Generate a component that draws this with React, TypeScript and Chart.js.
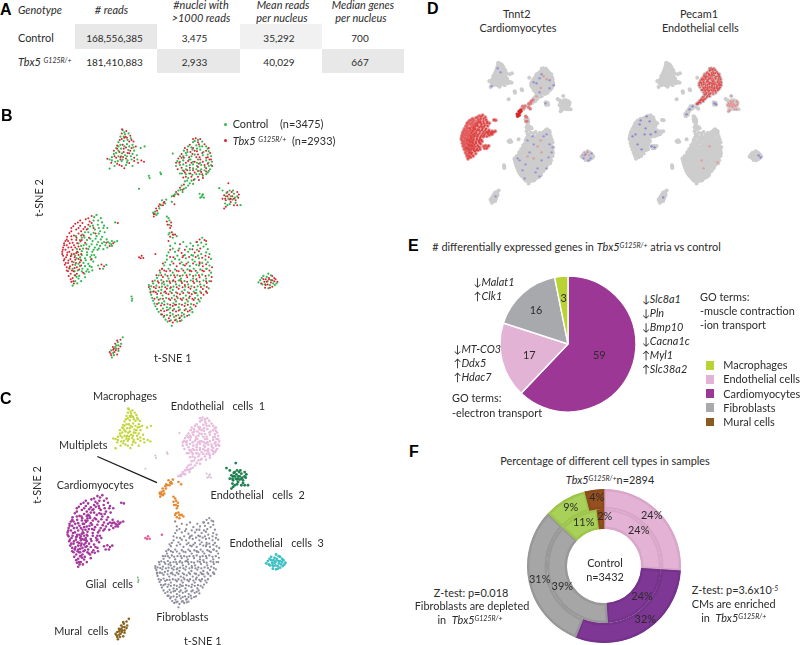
import React, { useEffect, useRef } from "react";
import { Chart, registerables } from "chart.js";
Chart.register(...registerables);

// ---- t-SNE embedding, one list per cluster and genotype (x,y flat) ----
const macroCtrl = [385,115,392,128,378,135,403,125,410,140,388,148,372,152,398,158,415,160,365,170,380,172,402,176,420,178,358,188,372,195,392,192,410,195,428,192,345,205,362,212,382,210,400,208,360,225,345,233,415,225,440,170,452,165,383,186,398,214,372,178,352,198,412,205,390,122,378,160,388,135,400,145,372,165,390,165,405,165,418,168,365,185,380,195,398,195,415,188,385,205,370,210,352,208,395,222,430,205];
const macroMut = [382,125,396,118,408,132,390,138,376,145,405,150,385,160,368,162,395,168,412,170,375,182,388,182,405,186,365,200,378,205,395,202,375,222,420,210,450,212,432,215,425,165,338,203,390,232,398,138,383,112,418,150,358,178,368,218,405,216,386,197,394,135,382,142,412,145,368,172,400,185,420,200,360,195,388,172,378,198,408,178,350,215,382,225,442,208];
const endo1Ctrl = [615,145,600,152,628,150,640,165,585,165,610,162,572,178,598,175,622,175,648,180,560,195,580,192,605,190,630,192,655,195,552,210,570,208,592,205,615,205,640,208,658,212,560,222,580,225,600,220,625,222,648,225,568,238,590,238,610,235,635,238,652,235,578,250,598,252,620,250,640,250,585,262,605,265,575,272,590,278,565,285,578,292,555,300,568,305,545,312,535,318,612,215,583,182,648,240,560,248,628,165,595,195,625,235,548,225,600,280,645,190,605,148,620,165,595,168,645,172,578,185,570,195,612,172,632,182,588,205,560,212,600,212,622,215,647,215,570,220,590,222,612,225,636,228,655,222,578,235,600,232,622,240,645,245,566,248,588,248,610,250,630,255,582,270,595,270,572,295,562,298,552,310,585,285,540,315];
const endo1Mut = [608,140,622,142,590,160,618,158,635,158,575,170,592,182,612,180,640,178,565,188,588,198,620,198,645,198,555,202,578,215,605,212,630,212,650,205,565,230,590,230,615,228,640,232,575,245,605,245,625,243,595,258,615,258,630,262,560,292,572,282,548,305,600,170,635,222,585,210,658,225,570,260,610,198,628,250,553,235,648,170,615,152,600,142,582,175,605,178,628,185,652,185,565,200,598,188,615,190,640,200,548,215,572,200,595,215,622,205,655,205,558,215,582,238,600,238,618,218,645,218,572,240,592,248,615,240,640,242,602,268,618,268,578,258,568,298,542,318,555,312];
const endoSmall = [620,310,628,315,633,322,622,322,465,255,467,262,500,245,502,250,435,295,538,187,626,320,630,312];
const endo2Ctrl = [712,300,725,310,700,318,735,318,745,345,690,300,705,345,720,328,680,293,728,322,708,325,698,340,715,318,702,308,730,338,712,342,722,300];
const endo2Mut = [695,315,710,312,720,318,730,330,715,335,700,330,740,312,725,345,695,355,708,278,690,325,735,305,718,305,705,305,712,328,725,325,705,318,715,325,698,325,738,322,735,345,700,350];
const endo3Ctrl = [830,555,815,562,805,575,838,575,812,588,845,585,830,600,800,582,825,565,850,590,835,590,820,588,810,568,838,560,855,585,828,578];
const endo3Mut = [842,562,822,572,852,572,828,588,858,580,820,598,842,595,832,568,818,580,838,582,848,578,825,580,835,598,848,568,815,572,842,575,822,590,808,585,832,572];
const cardioCtrl = [305,375,318,385,296,392,322,398,309,405,328,408,285,410,300,420,316,425,330,428,270,428,288,435,305,440,322,442,260,445,276,452,293,455,310,458,328,458,345,462,360,458,368,455,250,462,266,468,283,472,300,475,316,470,332,468,350,465,245,480,260,486,276,490,292,488,308,482,338,475,352,470,240,500,255,505,270,508,286,504,298,498,235,520,250,525,265,522,280,525,295,518,232,540,248,545,262,540,278,542,290,535,238,560,252,562,268,555,282,550,240,578,250,570,232,592,310,530,325,540,335,528,362,398,242,440,228,500,222,540,338,415,298,382,310,392,326,415,312,415,294,408,278,418,262,435,280,428,296,430,312,432,254,452,268,444,286,448,302,448,318,450,336,450,352,455,258,470,274,465,290,465,306,466,322,462,340,458,248,490,264,478,280,480,296,482,312,478,326,480,244,508,260,498,276,498,290,498,240,528,256,512,272,514,288,512,302,505,238,548,254,532,270,532,284,532,244,565,260,548,274,548,292,545,246,585,258,578,270,566];
const cardioMut = [290,378,272,388,255,392,284,395,240,402,255,408,270,412,290,400,228,415,243,420,258,425,275,420,222,430,236,438,250,432,266,438,282,445,215,442,229,450,243,452,256,456,270,460,210,455,223,462,236,468,250,472,206,468,219,475,232,482,246,488,202,482,216,490,229,495,243,492,258,495,200,495,212,505,225,510,240,512,258,515,205,515,218,522,232,528,245,535,208,528,222,538,235,548,258,530,214,545,226,555,245,555,220,562,232,568,228,580,236,585,320,527,315,540,328,532,370,400,302,432,274,478,290,510,264,552,280,385,262,400,248,398,234,410,250,415,265,418,280,405,296,415,228,425,214,450,228,440,244,445,258,438,206,462,218,455,232,460,246,462,260,452,203,475,214,468,228,474,240,475,254,480,200,488,210,482,222,488,236,495,250,498,203,500,215,498,226,502,238,505,250,510,207,510,219,515,230,518,242,522,254,520,211,522,224,532,238,538,252,542,218,548,230,545,240,560,226,572,214,535,234,578,345,470,356,462,335,460];
const fibroCtrl = [628,445,625,460,640,465,615,468,530,470,580,472,600,470,645,480,545,488,585,488,625,495,525,490,650,495,558,512,598,512,638,512,520,512,578,508,618,508,655,510,530,528,570,528,610,528,650,530,512,530,590,532,500,552,538,552,575,552,613,552,655,552,490,568,525,570,563,570,600,570,640,570,478,585,512,588,548,588,585,588,622,588,468,602,503,605,538,605,574,605,610,605,648,600,472,620,507,622,542,622,578,622,614,622,478,638,512,640,548,640,584,640,620,640,485,655,520,658,556,658,592,658,495,672,530,675,566,675,598,673,510,688,542,688,574,688,522,702,552,702,535,715,470,610,495,645,530,600,560,575,590,545,618,530,545,510,505,585,465,590,530,660,610,615,560,690,640,540,600,500,545,462,570,458,592,462,610,458,538,478,558,478,590,480,612,482,632,472,520,500,552,500,575,498,595,498,615,500,640,490,515,520,535,518,565,520,585,520,605,518,628,522,645,520,505,540,525,540,545,542,565,540,583,542,602,540,622,542,642,540,495,560,515,558,532,560,552,560,568,560,590,558,608,560,628,558,648,560,483,576,503,575,520,578,538,578,556,576,574,578,593,576,612,578,632,576,650,578,472,594,488,592,505,595,522,592,540,595,558,592,576,595,595,594,614,594,634,592,478,610,494,608,512,612,530,610,548,612,566,610,584,612,602,610,622,610,640,610,475,630,490,628,500,632,518,630,535,630,553,630,570,630,588,630,606,630,624,630,482,647,505,646,522,648,540,646,558,648,576,646,594,648,612,646,490,664,508,662,525,665,542,664,560,665,578,664,596,664,502,680,520,682,538,680,555,682,572,680,588,682,516,696,532,698,548,696,565,698];
const fibroMut = [635,452,620,450,560,465,622,478,565,492,605,490,540,505,530,482,598,480,638,500,550,532,630,532,658,535,518,548,556,548,595,548,633,548,508,565,545,566,582,566,620,566,657,565,495,583,530,584,566,584,603,584,642,584,486,600,520,601,556,601,592,601,630,602,490,617,525,618,560,618,596,618,632,620,495,635,530,636,566,636,602,636,502,653,538,654,574,654,608,655,512,670,548,671,584,671,526,692,558,692,538,705,575,530,610,572,540,575,575,590,515,610,545,650,590,625,505,540,480,610,640,610,570,500,620,520,525,455,505,680,550,625,612,458,640,455,555,484,575,482,618,486,530,504,568,505,588,504,608,504,628,506,648,505,508,524,540,524,560,524,580,525,600,524,620,525,640,526,498,545,512,545,530,546,550,546,570,545,590,546,608,546,628,545,650,545,488,560,503,560,522,562,542,560,560,562,580,560,600,562,618,560,638,562,476,578,492,578,510,580,528,578,546,580,564,578,582,580,600,578,620,580,640,578,655,578,465,596,480,596,497,597,515,597,532,597,550,597,568,597,586,597,604,597,624,596,642,596,470,613,486,612,502,615,518,615,535,614,552,615,570,614,588,614,606,614,625,614,643,614,482,632,508,632,526,632,544,634,562,632,580,634,598,632,616,634,490,648,512,650,530,650,548,650,566,650,584,650,602,650,502,668,520,667,538,668,556,668,574,667,590,668,512,684,530,684,548,684,565,684,582,684,528,700,545,698,560,700];
const multCtrl = [488,375,478,368,497,355,502,345,518,328,505,330,520,380,528,392,525,435,538,445,550,440,535,335,484,365,492,370,515,340,525,385,527,405,540,436,528,430];
const multMut = [480,380,490,362,487,355,510,338,495,348,483,372,522,405,533,398,530,415,535,428,545,435,530,442,543,342,480,372,498,342,508,345,520,395,538,435,533,408,512,335];
const muralCtrl = [385,750,370,765,372,775,365,785,350,790,372,792,358,805,352,812,380,770,366,775,356,798,362,780];
const muralMut = [378,758,362,770,355,780,378,778,360,795,348,800,368,803,356,788,372,785,350,805,364,790,368,760,345,795,358,785];
const pinkSmall = [435,505,443,500,448,507,440,508,485,495];
const glial = [412,625,414,632,413,638];
const multipletLine = [290,258,470,337];

// ---- panel D expression overlays ----
const tnnt2Blue = [610,480,560,520,640,520,520,620,600,600,650,560,490,600,570,660,625,470,540,560,580,640,530,500,655,535,515,690,600,170,640,200,590,260,575,215,640,240,660,225,820,570,810,590,845,590,850,565,835,600,620,315,380,140,395,160,350,230,370,780,480,590,505,650,590,680,635,585,625,640,555,480,590,190,560,210];
const tnnt2Soft = [580,530,560,590,600,560,530,580,595,500,610,180,625,195,596,238,830,560,815,575,545,320,560,295,575,280];
const tnnt2Strong = [480,380,490,362,487,355,483,372,495,348,488,375,478,368,497,355];
const tnnt2Mid = [510,338,502,345,518,328,505,330,520,380,525,385,527,405,522,405,535,335,543,342,545,312,555,300,548,305,535,318,540,315];
const pecamBlue = [250,420,230,470,280,440,300,405,305,470,240,520,260,545,330,458,325,535,310,530,285,380,215,480,540,318,555,300,575,270,625,315,632,320,845,575,855,585,368,785,485,370,255,400,275,470,515,330,500,345];
const pecamSoft = [600,530,570,640,640,610,560,600];

// ---- panel E and F values ----
const pieLabels = ["Cardiomyocytes", "Endothelial cells", "Fibroblasts", "Macrophages"];
const pieValues = [59, 17, 16, 3];
const ringTbx5 = [26, 30, 31, 9, 4];
const ringControl = [26, 23, 38, 11, 2];
const legendNames = ["Macrophages", "Endothelial cells", "Cardiomyocytes", "Fibroblasts", "Mural cells"];
const legendColors = ["#bad334", "#e3b3d6", "#9c3795", "#a8a9ad", "#8a5a22"];
const tableRows = [
  ["168,556,385", "3,475", "35,292", "700"],
  ["181,410,883", "2,933", "40,029", "667"],
];

const pts = (f: number[]) => {
  const out: { x: number; y: number }[] = [];
  for (let i = 0; i + 1 < f.length; i += 2) out.push({ x: f[i], y: f[i + 1] });
  return out;
};
const dot = (data: number[], color: string, r: number, extra: any = {}) => ({
  data: pts(data), backgroundColor: color, pointRadius: r, pointBorderWidth: 0, pointHoverRadius: r, showLine: false, ...extra,
});
const allPoints = [macroCtrl, macroMut, endo1Ctrl, endo1Mut, endoSmall, endo2Ctrl, endo2Mut, endo3Ctrl, endo3Mut, cardioCtrl, cardioMut, fibroCtrl, fibroMut, multCtrl, multMut, muralCtrl, muralMut, pinkSmall, glial].flat();

const scatterOpts = (xmin: number, xmax: number, ymin: number, ymax: number) => ({
  responsive: false, animation: false as const, events: [] as any[],
  layout: { padding: 0 },
  plugins: { legend: { display: false }, tooltip: { enabled: false } },
  scales: {
    x: { type: "linear" as const, display: false, min: xmin, max: xmax },
    y: { type: "linear" as const, display: false, min: ymin, max: ymax, reverse: true },
  },
});

const FONT = "Lato, 'Open Sans', sans-serif";

function T({ x, y, c, i, s, b, rot, children, col }: any) {
  const tx = c ? "-50%" : "0";
  return (
    <div style={{ position: "absolute", left: x, top: y, whiteSpace: "pre", fontStyle: i ? "italic" : "normal", fontSize: s ?? 10.9, color: col ?? "#2b2b2b", fontWeight: b ? 700 : 400, lineHeight: 1, transform: `translate(${tx},-50%)${rot ? " rotate(-90deg)" : ""}`, fontFamily: b ? "'Liberation Sans', Arial, sans-serif" : FONT }}>{children}</div>
  );
}
const Sup = ({ children, s }: any) => <span style={{ fontSize: s ?? 7, fontStyle: "italic", position: "relative", top: -3 }}>{children}</span>;
const Tbx = ({ gap }: any) => <><i>Tbx5</i>{gap ? " " : ""}<Sup>G125R/+</Sup></>;
const Cell = ({ x, y, w, h, col }: any) => <div style={{ position: "absolute", left: x, top: y, width: w, height: h, background: col }} />;

export default function App() {
  const bRef = useRef<HTMLCanvasElement>(null);
  const cRef = useRef<HTMLCanvasElement>(null);
  const d1Ref = useRef<HTMLCanvasElement>(null);
  const d2Ref = useRef<HTMLCanvasElement>(null);
  const eRef = useRef<HTMLCanvasElement>(null);
  const fRef = useRef<HTMLCanvasElement>(null);

  useEffect(() => {
    const charts: Chart[] = [];
    const G = "#36b650", R = "#d8232f";
    charts.push(new Chart(bRef.current!, {
      type: "scatter",
      data: { datasets: [
        dot([...macroMut, ...endo1Mut, ...endo2Mut, ...endo3Mut, ...cardioMut, ...fibroMut, ...multMut, ...muralMut, ...pinkSmall], R, 1),
        dot([...macroCtrl, ...endo1Ctrl, ...endoSmall, ...endo2Ctrl, ...endo3Ctrl, ...cardioCtrl, ...fibroCtrl, ...multCtrl, ...muralCtrl, ...glial], G, 1.1),
      ] },
      options: scatterOpts(13.4, 1229, 26, 847) as any,
    }));
    charts.push(new Chart(cRef.current!, {
      type: "scatter",
      data: { datasets: [
        { data: pts(multipletLine), showLine: true, borderColor: "#1a1a1a", borderWidth: 1.3, pointRadius: 0 },
        dot([...macroCtrl, ...macroMut], "#c2d53a", 1.2),
        dot([...endo1Ctrl, ...endo1Mut], "#e8bcdd", 1.3),
        dot(endoSmall, "#d9c3d6", 1.1),
        dot([...endo2Ctrl, ...endo2Mut], "#1f7f4f", 1.4),
        dot([...endo3Ctrl, ...endo3Mut], "#3cc0c4", 1.4),
        dot([...cardioCtrl, ...cardioMut], "#a4389c", 1.3),
        dot([...fibroCtrl, ...fibroMut], "#8d8d9c", 1.15),
        dot([...multCtrl, ...multMut], "#e58a32", 1.3),
        dot([...muralCtrl, ...muralMut], "#8a6420", 1.3),
        dot(pinkSmall, "#e8609a", 1.3),
        dot(glial, "#7fae7f", 1),
      ] },
      options: scatterOpts(0, 1200, 0, 825) as any,
    }));
    const GR = "#cdcdcd";
    charts.push(new Chart(d1Ref.current!, {
      type: "scatter",
      data: { datasets: [
        dot(tnnt2Strong, "#dc2222", 1.5),
        dot(tnnt2Mid, "#e47878", 1.5),
        dot(cardioCtrl, "#d9403f", 1.1),
        dot(cardioMut, "#e25a5a", 1.3),
        dot([...endo3Ctrl.slice(0, 8)], "#c9a6c4", 1.1),
        dot(tnnt2Blue, "rgba(130,125,215,.7)", 1.2),
        dot(tnnt2Soft, "rgba(235,140,140,.8)", 1.2),
        dot(cardioMut, "#eda3a3", 2),
        dot(cardioCtrl, "#eda3a3", 2),
        dot(allPoints, GR, 2),
      ] },
      options: scatterOpts(102, 907, 58.5, 888) as any,
    }));
    charts.push(new Chart(d2Ref.current!, {
      type: "scatter",
      data: { datasets: [
        dot(endo2Mut, "#ea8c8c", 1),
        dot(endo1Ctrl, "#e04a4a", 1),
        dot(endo1Mut, "#e86a6a", 1.1),
        dot(pecamBlue, "rgba(125,120,215,.8)", 1.2),
        dot(pecamSoft, "rgba(235,140,140,.8)", 1.2),
        dot(allPoints, GR, 2),
      ] },
      options: scatterOpts(102, 907, 58.5, 888) as any,
    }));
    charts.push(new Chart(eRef.current!, {
      type: "pie",
      data: { labels: pieLabels, datasets: [{ data: pieValues, backgroundColor: ["#9c3795", "#e3b3d6", "#a8a9ad", "#bad334"], borderColor: "#fff", borderWidth: 1.4 }] },
      options: { responsive: false, animation: false, events: [], radius: 68, layout: { padding: 0 }, plugins: { legend: { display: false }, tooltip: { enabled: false } } } as any,
    }));
    const ringFill = ["#e3b2d4", "#7f3795", "#a6a6a6", "#a9d15a", "#96501f"];
    const ringEdge = ["#d7a6c8", "#74328a", "#989898", "#9dc44c", "#8a4a1c"];
    charts.push(new Chart(fRef.current!, {
      type: "doughnut",
      data: { labels: legendNames, datasets: [
        { data: ringTbx5, backgroundColor: ringFill, borderColor: ringEdge, borderWidth: 2, borderAlign: "inner" },
        { data: ringControl, backgroundColor: ringFill, borderColor: ringEdge, borderWidth: 2, borderAlign: "inner" },
      ] as any },
      options: { responsive: false, animation: false, events: [], radius: 77, cutout: 38.5, layout: { padding: 0 }, plugins: { legend: { display: false }, tooltip: { enabled: false } } } as any,
    }));
    return () => charts.forEach((c) => c.destroy());
  }, []);

  const cv = (ref: any, x: number, y: number, w: number, h: number) => (
    <canvas ref={ref} width={w} height={h} style={{ position: "absolute", left: x, top: y, width: w, height: h }} />
  );
  const colsX = [114.5, 194.5, 279, 360];
  const rowsY = [38, 62];

  return (
    <div style={{ position: "absolute", left: 0, top: 0, width: 800, height: 645, background: "#fff", overflow: "hidden", fontFamily: FONT }}>
      <Cell x={75} y={24} w={82} h={25} col="#e8e8e8" />
      <Cell x={240} y={24} w={82} h={25} col="#f1f1f1" />
      <Cell x={157} y={49} w={83} h={24} col="#e8e8e8" />
      <Cell x={322} y={49} w={82} h={24} col="#e8e8e8" />
      {cv(bRef, 0, 100, 400, 270)}
      {cv(cRef, 0, 370, 400, 275)}
      {cv(d1Ref, 440, 50, 165, 170)}
      {cv(d2Ref, 608, 50, 165, 170)}
      {cv(eRef, 498, 274, 140, 140)}
      {cv(fRef, 524, 486, 160, 160)}

      <T x={0} y={10} b s={16} col="#000">A</T>
      <T x={1} y={116} b s={16} col="#000">B</T>
      <T x={0} y={399} b s={16} col="#000">C</T>
      <T x={427} y={9} b s={16} col="#000">D</T>
      <T x={408} y={246} b s={16} col="#000">E</T>
      <T x={409} y={452} b s={16} col="#000">F</T>

      <T x={18} y={10} i>Genotype</T>
      <T x={111.5} y={10} c i># reads</T>
      <T x={201} y={4.5} c i>#nuclei with</T>
      <T x={201} y={18} c i>&gt;1000 reads</T>
      <T x={283} y={4.5} c i>Mean reads</T>
      <T x={282} y={18} c i>per nucleus</T>
      <T x={363} y={4.5} c i>Median genes</T>
      <T x={361} y={18} c i>per nucleus</T>
      <T x={18} y={38}>Control</T>
      <T x={18} y={62}><Tbx gap /></T>
      {tableRows.map((r, j) => r.map((v, k) => <T key={j + "-" + k} x={colsX[k]} y={rowsY[j]} c s={10}>{v}</T>))}

      <T x={39} y={198} c rot>t-SNE 2</T>
      <T x={172.7} y={358} c>t-SNE 1</T>
      <div style={{ position: "absolute", left: 224, top: 122.5, width: 3.4, height: 3.4, borderRadius: 2, background: "#36b650" }} />
      <div style={{ position: "absolute", left: 224, top: 138.5, width: 3.4, height: 3.4, borderRadius: 2, background: "#d8232f" }} />
      <T x={232.7} y={124}>Control</T>
      <T x={280} y={124}>(n=3475)</T>
      <T x={232.7} y={141}><Tbx gap /></T>
      <T x={292} y={141}>(n=2933)</T>

      <T x={125} y={395.7} c>Macrophages</T>
      <T x={218} y={406} c>Endothelial   cells  1</T>
      <T x={83.3} y={445} c>Multiplets</T>
      <T x={95.3} y={485.3} c>Cardiomyocytes</T>
      <T x={257.7} y={495.3} c>Endothelial   cells  2</T>
      <T x={276.7} y={542.7} c>Endothelial   cells  3</T>
      <T x={109.3} y={584} c>Glial  cells</T>
      <T x={182.3} y={616.7} c>Fibroblasts</T>
      <T x={81.3} y={631} c>Mural  cells</T>
      <T x={202.7} y={641} c>t-SNE 1</T>
      <T x={37.3} y={485} c rot>t-SNE 2</T>

      <T x={516.7} y={13.7} c>Tnnt2</T>
      <T x={518} y={28} c>Cardiomyocytes</T>
      <T x={699} y={14} c>Pecam1</T>
      <T x={700.3} y={28} c>Endothelial cells</T>

      <T x={432.3} y={246.7}># differentially expressed genes in <Tbx /> atria vs control</T>
      <T x={599.3} y={355} c>{pieValues[0]}</T>
      <T x={529.3} y={355} c>{pieValues[1]}</T>
      <T x={536} y={310} c>{pieValues[2]}</T>
      <T x={563.7} y={297.7} c>{pieValues[3]}</T>
      <T x={473.3} y={282}>↓<i>Malat1</i></T>
      <T x={473.3} y={296.3}>↑<i>Clk1</i></T>
      <T x={453.3} y={349.3}>↓<i>MT-CO3</i></T>
      <T x={453.3} y={363.3}>↑<i>Ddx5</i></T>
      <T x={453.3} y={377.3}>↑<i>Hdac7</i></T>
      <T x={452} y={398.3}>GO terms:</T>
      <T x={452} y={412.7}>-electron transport</T>
      <T x={641.7} y={299.3}>↓<i>Slc8a1</i></T>
      <T x={641.7} y={313.3}>↓<i>Pln</i></T>
      <T x={641.7} y={327.3}>↓<i>Bmp10</i></T>
      <T x={641.7} y={341.3}>↓<i>Cacna1c</i></T>
      <T x={641.7} y={355.3}>↑<i>Myl1</i></T>
      <T x={641.7} y={369.3}>↑<i>Slc38a2</i></T>
      <T x={700} y={296.7}>GO terms:</T>
      <T x={700} y={311}>-muscle contraction</T>
      <T x={700} y={325}>-ion transport</T>
      {legendNames.map((n, k) => (
        <React.Fragment key={n}>
          <Cell x={705.5} y={361 + k * 14.15} w={8.5} h={8.5} col={legendColors[k]} />
          <T x={723.3} y={365.2 + k * 14.15}>{n}</T>
        </React.Fragment>
      ))}

      <T x={605} y={460.7} c>Percentage of different cell types in samples</T>
      <T x={610} y={479.7} c><Tbx />n=2894</T>
      <T x={605} y={563.3} c>Control</T>
      <T x={605} y={577} c>n=3432</T>
      <T x={596.7} y={497.3} c>4%</T>
      <T x={570.7} y={506.7} c>9%</T>
      <T x={604.7} y={516.3} c>2%</T>
      <T x={651.7} y={515.3} c>24%</T>
      <T x={583.7} y={522} c>11%</T>
      <T x={638.7} y={529.7} c>24%</T>
      <T x={539.7} y={579} c>31%</T>
      <T x={562.3} y={586} c>39%</T>
      <T x={642} y={596} c>24%</T>
      <T x={645.3} y={619} c>32%</T>
      <T x={471} y={592.7} c>Z-test: p=0.018</T>
      <T x={472} y={606.3} c>Fibroblasts are depleted</T>
      <T x={470} y={620} c>in  <Tbx /></T>
      <T x={735} y={590} c>Z-test: p=3.6x10<Sup>-5</Sup></T>
      <T x={733.7} y={603.7} c>CMs are enriched</T>
      <T x={733.7} y={617.7} c>in  <Tbx /></T>
    </div>
  );
}
